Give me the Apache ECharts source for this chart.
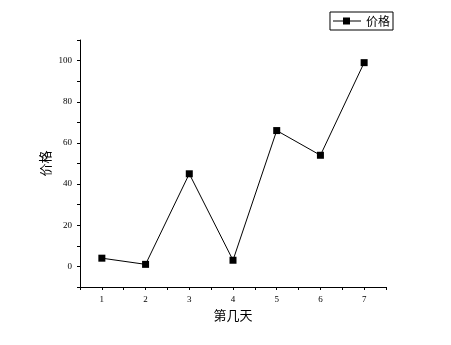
<!DOCTYPE html>
<html><head><meta charset="utf-8">
<script src="https://cdn.jsdelivr.net/npm/echarts@6/dist/echarts.min.js"></script>
<style>html,body{margin:0;padding:0;background:#fff}#c{width:451px;height:345px}</style>
</head><body><div id="c"></div>
<script>
const days = [1, 2, 3, 4, 5, 6, 7];
const prices = [4, 1, 45, 3, 66, 54, 99];
const seriesName = '价格';
const xName = '第几天';
const yName = '价格';

const chart = echarts.init(document.getElementById('c'), null, {renderer: 'canvas'});
chart.setOption({
  animation: false,
  backgroundColor: '#fff',
  grid: {left: 80, top: 40, right: 65, bottom: 58},
  legend: {
    right: 58, top: 12, itemWidth: 28, itemHeight: 7,
    borderColor: '#000', borderWidth: 1, padding: [3, 3, 3, 3], itemGap: 4,
    textStyle: {fontFamily: 'Noto Sans CJK SC', fontSize: 12, color: '#000'},
    data: [{name: seriesName, icon: 'path://M0,3h28v1h-28z M10,0h7v7h-7z'}]
  },
  xAxis: {
    type: 'value', min: 0.5, max: 7.5, interval: 0.5,
    name: xName, nameLocation: 'middle', nameGap: 22, nameMoveOverlap: false,
    nameTextStyle: {fontFamily: 'Noto Sans CJK SC', fontSize: 13, color: '#000'},
    axisLine: {onZero: false, lineStyle: {color: '#000', width: 1}},
    axisTick: {show: true, length: 3, lineStyle: {color: '#000'}},
    axisLabel: {fontFamily: 'Liberation Serif', fontSize: 9, color: '#000', margin: 8,
      formatter: v => (Number.isInteger(v) ? String(v) : '')},
    splitLine: {show: false}
  },
  yAxis: {
    type: 'value', min: -10, max: 110, interval: 10,
    name: yName, nameLocation: 'middle', nameGap: 28, nameRotate: 90, nameMoveOverlap: false,
    nameTextStyle: {fontFamily: 'Noto Sans CJK SC', fontSize: 13, color: '#000'},
    axisLine: {show: true, onZero: false, lineStyle: {color: '#000', width: 1}},
    axisTick: {show: true, length: 3, lineStyle: {color: '#000'}},
    axisLabel: {fontFamily: 'Liberation Serif', fontSize: 9, color: '#000', margin: 8,
      formatter: v => (v % 20 === 0 && v >= 0 && v <= 100 ? String(v) : '')},
    splitLine: {show: false}
  },
  series: [{
    name: seriesName, type: 'line',
    data: days.map((d, i) => [d, prices[i]]),
    symbol: 'rect', symbolSize: 7,
    itemStyle: {color: '#000'},
    lineStyle: {color: '#000', width: 1}
  }]
});
</script></body></html>
